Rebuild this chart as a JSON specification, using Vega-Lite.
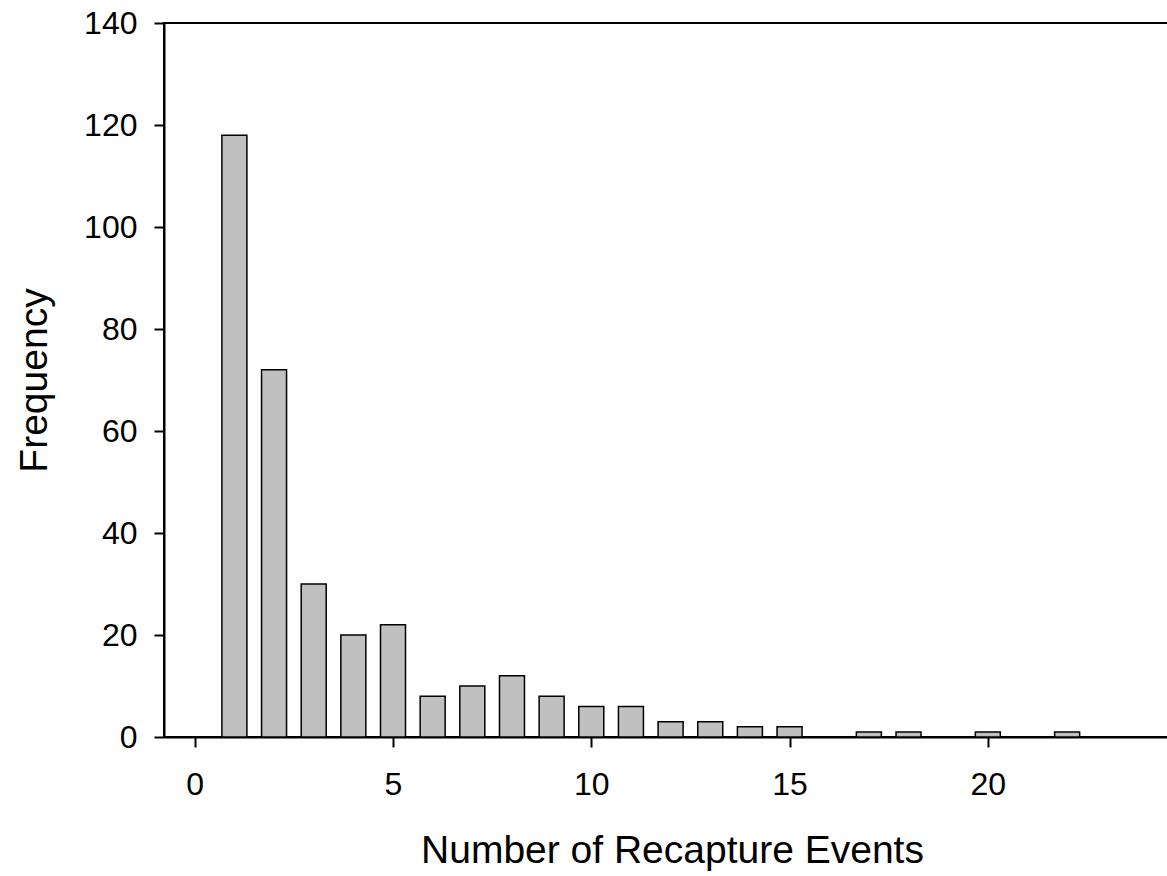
{
  "$schema": "https://vega.github.io/schema/vega-lite/v6.json",
  "width": 1016,
  "height": 714,
  "autosize": {"type": "none"},
  "padding": {"left": 164, "top": 23, "right": 0, "bottom": 139},
  "background": "white",
  "config": {
    "font": "Liberation Sans",
    "view": {"stroke": "black", "strokeWidth": 2},
    "axis": {
      "grid": false,
      "domainColor": "black",
      "domainWidth": 2,
      "tickColor": "black",
      "tickWidth": 2,
      "tickSize": 10,
      "labelFont": "Liberation Sans",
      "labelFontSize": 32,
      "labelColor": "black",
      "titleFont": "Liberation Sans",
      "titleFontSize": 39,
      "titleFontWeight": "normal",
      "titleColor": "black"
    }
  },
  "data": {
    "values": [
      {"events": 1, "frequency": 118},
      {"events": 2, "frequency": 72},
      {"events": 3, "frequency": 30},
      {"events": 4, "frequency": 20},
      {"events": 5, "frequency": 22},
      {"events": 6, "frequency": 8},
      {"events": 7, "frequency": 10},
      {"events": 8, "frequency": 12},
      {"events": 9, "frequency": 8},
      {"events": 10, "frequency": 6},
      {"events": 11, "frequency": 6},
      {"events": 12, "frequency": 3},
      {"events": 13, "frequency": 3},
      {"events": 14, "frequency": 2},
      {"events": 15, "frequency": 2},
      {"events": 17, "frequency": 1},
      {"events": 18, "frequency": 1},
      {"events": 20, "frequency": 1},
      {"events": 22, "frequency": 1}
    ]
  },
  "mark": {"type": "bar", "size": 25, "fill": "#c0c0c0", "stroke": "black", "strokeWidth": 1.5},
  "encoding": {
    "x": {
      "field": "events",
      "type": "quantitative",
      "scale": {"domain": [-0.649, 24.72], "nice": false, "zero": false},
      "axis": {
        "values": [0, 5, 10, 15, 20],
        "title": "Number of Recapture Events",
        "labelPadding": 22,
        "titlePadding": 31
      }
    },
    "y": {
      "field": "frequency",
      "type": "quantitative",
      "scale": {"domain": [0, 140], "nice": false},
      "axis": {
        "values": [0, 20, 40, 60, 80, 100, 120, 140],
        "title": "Frequency",
        "labelPadding": 17,
        "titlePadding": 29
      }
    }
  }
}
